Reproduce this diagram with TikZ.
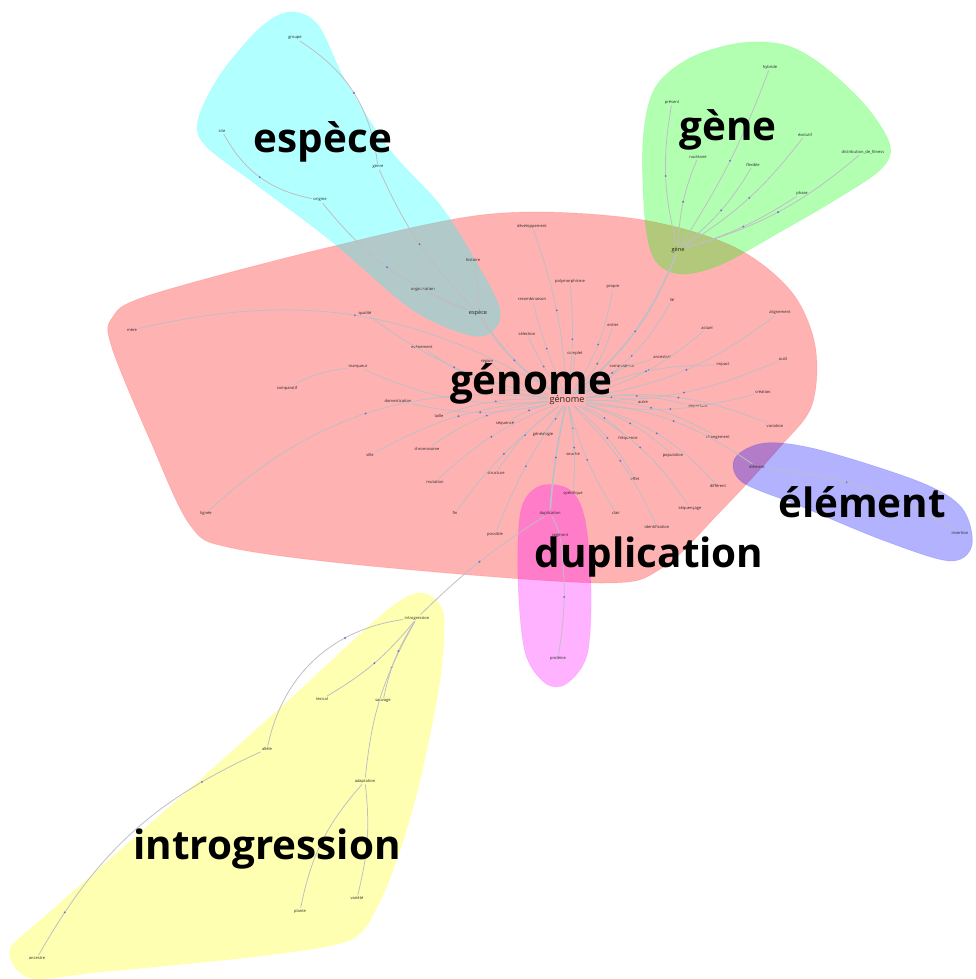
\documentclass[tikz,border=0pt]{standalone}
\usepackage{fontspec}
\setsansfont{Open Sans}
\usepackage{tikz}

\definecolor{zrouge}{RGB}{255,0,0}
\definecolor{zcyan}{RGB}{0,255,255}
\definecolor{zvert}{RGB}{0,255,0}
\definecolor{zbleu}{RGB}{0,0,255}
\definecolor{zmagenta}{RGB}{255,0,255}
\definecolor{zjaune}{RGB}{255,255,0}
\definecolor{zlien}{RGB}{190,190,196}
\definecolor{zpoint}{RGB}{110,110,200}

\tikzset{
  mot/.style={font=\sffamily\fontsize{2.3}{2.6}\selectfont, inner sep=0.6pt, text=black!85},
  titre/.style={font=\sffamily\bfseries\fontsize{23}{26}\selectfont, inner sep=0pt},
  lien/.style={draw=zlien, line width=0.45pt},
  gros/.style={draw=zlien, line width=1pt},
  mdot/.style={circle, fill=zpoint, inner sep=0pt, minimum size=1.2pt},
  zone/.style={fill opacity=0.3, draw opacity=0.12, line width=0.4pt}
}

\begin{document}
\begin{tikzpicture}[x=0.02cm, y=-0.02cm]
\useasboundingbox (0,0) rectangle (975,979);

% 聚类区域
\path[zone, fill=zrouge, draw=zrouge] plot[smooth cycle, tension=0.55] coordinates {
  (112,318) (150,295) (330,247) (490,214) (630,218) (730,245) (790,290) (815,345)
  (812,405) (780,447) (720,512) (662,568) (600,583) (380,567) (232,548) (190,525)
  (150,440) (112,348)};
\path[zone, fill=zcyan, draw=zcyan] plot[smooth cycle, tension=0.55] coordinates {
  (290,12) (318,25) (345,80) (390,150) (440,205) (475,260) (500,310) (490,333)
  (465,334) (410,308) (330,240) (250,180) (205,145) (198,120) (220,75) (260,28)};
\path[zone, fill=zvert, draw=zvert] plot[smooth cycle, tension=0.55] coordinates {
  (655,88) (690,58) (740,43) (785,45) (822,65) (865,105) (890,145) (880,170)
  (835,200) (780,232) (720,265) (680,274) (655,260) (645,220) (643,140)};
\path[zone, fill=zbleu, draw=zbleu] plot[smooth cycle, tension=0.55] coordinates {
  (735,458) (765,443) (820,450) (920,482) (962,508) (972,545) (950,561)
  (885,541) (800,506) (742,482)};
\path[zone, fill=zmagenta, draw=zmagenta] plot[smooth cycle, tension=0.55] coordinates {
  (540,486) (570,490) (585,520) (591,590) (587,655) (566,684) (545,683)
  (525,652) (518,580) (521,510)};
\path[zone, fill=zjaune, draw=zjaune] plot[smooth cycle, tension=0.5] coordinates {
  (420,593) (443,612) (440,680) (420,780) (400,850) (378,905) (350,940)
  (260,956) (100,972) (30,978) (10,950) (50,912) (200,780) (300,690) (385,612)};

% 节点
\node[mot, font=\sffamily\fontsize{5.2}{6}\selectfont] (gnm) at (567,400) {génome};
\node[mot, font=\sffamily\fontsize{3.2}{4}\selectfont] (esp) at (478,313) {espèce};
\node[mot, font=\sffamily\fontsize{3.2}{4}\selectfont] (gne) at (678,250) {gène};
\foreach \n/\x/\y/\t in {
  dev/532/226/développement, poly/570/281/polymorphisme, reco/532/299/recombinaison,
  prop/613/287/propre, sel/527/334/sélection, ent/613/325/entier, cpl/575/353/complet,
  reg/487/361/région, evt/422/347/évènement, dom/398/401/domestication, tai/439/416/taille,
  seqc/505/423/séquencé, gea/543/434/généalogie, chr/427/449/chromosome,
  str/496/473/structure, sou/573/454/souche, cmp/622/367/comparaison, lie/672/300/lié,
  ali/780/312/alignement, act/707/328/actuel, anc/662/357/ancestral, out/783/359/outil,
  imp/723/365/impact, cre/763/392/création, aut/643/402/autre, ipt/698/407/important,
  var/775/426/variation, frq/628/438/fréquence, chg/718/437/changement,
  pop/673/455/population, eff/635/479/effet, dif/718/486/différent,
  sqg/690/508/séquençage, cla/616/513/clair, idt/657/527/identification,
  qua/365/313/qualité, mrq/358/367/marqueur, cpf/287/388/comparatif, vil/370/455/ville,
  lgn/206/513/lignée, mer/132/330/mère, mut/435/482/mutation, fin/455/513/fin,
  pos/495/534/possible, spe/573/493/spécifique, seg/560/536/segment,
  ele/757/467/élément, ins/960/533/insertion, dup/550/513/duplication,
  prt/558/658/protéine,
  grp/295/38/groupe, sit/222/131/site, gnr/378/167/genre, ori/320/200/origine,
  his/473/260/histoire, org/423/290/organisation,
  hyb/770/67/hybride, pre/672/102/présent, evo/805/135/évolutif,
  dis/863/152/distribution\_de\_fitness, nuc/698/157/nucléaire, flx/753/165/flexible,
  pha/802/193/phase,
  itg/417/618/introgression, lex/322/699/lexical, sau/383/701/sauvage,
  all/267/749/allèle, ada/365/781/adaptation, pla/300/911/plante,
  vrt/357/898/variété, acs/37/958/ancestre}
  \node[mot] (\n) at (\x,\y) {\t};

% 连线
\foreach \n/\b in {
  dev/-8, poly/-6, reco/4, prop/-12, sel/6, ent/-14, cpl/-5, reg/10, evt/14,
  dom/12, tai/-10, seqc/-8, gea/6, chr/-14, str/-10, sou/8, cmp/-10, lie/-16,
  ali/-14, act/-12, anc/10, out/-12, imp/12, cre/-12, aut/8, ipt/10, var/14,
  frq/10, chg/14, pop/12, eff/10, dif/16, sqg/14, cla/-8, idt/10, qua/12,
  mrq/14, vil/-12, lgn/-24, mer/-22, mut/-10, fin/-8, pos/-6, spe/8, ele/14}
  \draw[lien] (gnm) to[bend left=\b] node[mdot]{} (\n);
\draw[gros] (gnm) to[bend left=12] node[mdot]{} (esp);
\draw[gros] (gnm) to[bend left=-14] node[mdot]{} (gne);
\draw[gros] (gnm) to[bend left=-4] node[mdot]{} (dup);
\draw[lien] (cpf) to[bend left=10] (mrq);

% espèce
\draw[lien] (grp) to[bend left=25] node[mdot]{} (gnr);
\draw[lien] (gnr) to[bend right=10] node[mdot]{} (esp);
\draw[lien] (sit) to[bend right=25] node[mdot]{} (ori);
\draw[lien] (ori) to[bend right=15] node[mdot]{} (esp);
\draw[lien] (his) to[bend left=8] (esp);
\draw[lien] (org) to[bend right=6] (esp);

% gène
\foreach \n/\b in {hyb/-6, pre/12, evo/-10, dis/-12, nuc/10, flx/-10, pha/-8}
  \draw[lien] (gne) to[bend left=\b] node[mdot]{} (\n);

% élément, duplication
\draw[lien] (ele) to[bend left=12] node[mdot, pos=.4]{} node[mdot, pos=.7]{} (ins);
\draw[lien] (dup) to[bend left=6] (seg);
\draw[lien] (seg) to[bend left=8] node[mdot]{} (prt);
\draw[lien] (dup) to[bend right=6] node[mdot]{} (itg);

% introgression
\draw[lien] (itg) to[bend right=35] node[mdot, pos=.3]{} (all);
\draw[lien] (itg) to[bend right=12] node[mdot, pos=.3]{} (ada);
\draw[lien] (itg) to[bend left=10] node[mdot]{} (lex);
\draw[lien] (itg) to[bend right=10] node[mdot, pos=.4]{} (sau);
\draw[lien] (all) to[bend right=18] node[mdot, pos=.2]{} node[mdot, pos=.85]{} (acs);
\draw[lien] (ada) to[bend right=15] node[mdot]{} (pla);
\draw[lien] (ada) to[bend left=10] node[mdot]{} (vrt);

% 类别标签
\node[titre] (tesp) at (323,142) {espèce};
\node[titre] (tgne) at (728,130) {gène};
\node[titre] (tgnm) at (531,384) {génome};
\node[titre] (tele) at (862,502) {élément};
\node[titre] (tdup) at (649,557) {duplication};
\node[titre] (titg) at (267,849) {introgression};
\end{tikzpicture}
\end{document}
